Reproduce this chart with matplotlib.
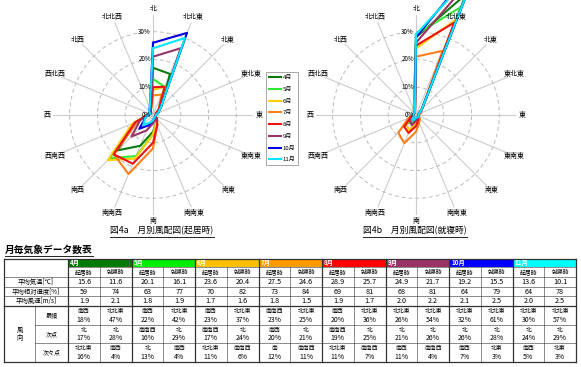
import matplotlib
matplotlib.use('Agg')
import matplotlib.pyplot as plt
import numpy as np
from matplotlib.patches import Rectangle

plt.rcParams['font.family'] = ['Noto Sans CJK JP', 'DejaVu Sans']

# 16 directions, clockwise from north
directions = ['北', '北北東', '北東', '東北東', '東', '東南東', '南東', '南南東',
              '南', '南南西', '南西', '西南西', '西', '西北西', '北西', '北北西']
months = ['4月', '5月', '6月', '7月', '8月', '9月', '10月', '11月']
line_colors = ['#0a7a0a', '#33e633', '#ffcc00', '#ff7f1a', '#ee1111', '#993366', '#0000e0', '#00e8ff']
header_colors = ['#007a00', '#00ee00', '#ffc000', '#ff9900', '#ff0000', '#993366', '#0000ff', '#00ffff']

# wind frequency [%] while awake (起居時), one list per month
wake_rose = [
    [17, 16, 4, 2, 1, 1, 2, 3, 6, 12, 18, 7, 2, 1, 1, 2],
    [13, 11, 3, 2, 1, 1, 2, 3, 7, 16, 22, 7, 2, 1, 1, 2],
    [9, 11, 3, 2, 1, 1, 2, 3, 7, 17, 23, 8, 2, 1, 1, 2],
    [7, 8, 3, 1, 1, 1, 2, 4, 12, 23, 20, 6, 2, 1, 1, 2],
    [10, 11, 3, 1, 1, 1, 2, 4, 10, 19, 20, 7, 2, 1, 1, 2],
    [21, 26, 4, 2, 1, 1, 2, 2, 3, 6, 11, 5, 2, 1, 1, 2],
    [26, 32, 4, 2, 1, 1, 1, 1, 2, 4, 7, 3, 2, 1, 2, 3],
    [24, 30, 4, 2, 1, 1, 1, 1, 2, 3, 5, 3, 2, 1, 2, 3],
]
# wind frequency [%] while asleep (就寝時)
sleep_rose = [
    [28, 47, 3, 1, 1, 1, 1, 1, 2, 3, 4, 2, 1, 1, 1, 2],
    [29, 42, 3, 1, 1, 1, 1, 1, 2, 3, 4, 2, 1, 1, 1, 2],
    [24, 37, 3, 1, 1, 1, 1, 2, 3, 6, 5, 2, 1, 1, 1, 1],
    [21, 25, 3, 2, 1, 1, 2, 3, 6, 11, 9, 3, 1, 1, 1, 1],
    [25, 36, 3, 1, 1, 1, 1, 2, 4, 7, 6, 2, 1, 1, 1, 1],
    [26, 54, 3, 1, 1, 1, 1, 1, 2, 4, 3, 1, 1, 1, 1, 1],
    [28, 61, 3, 1, 1, 1, 1, 1, 1, 2, 2, 1, 1, 1, 1, 1],
    [29, 57, 3, 1, 1, 1, 1, 1, 1, 2, 2, 1, 1, 1, 1, 1],
]

# table values
temp_wake = [15.6, 20.1, 23.6, 27.5, 28.9, 24.9, 19.2, 13.6]
temp_sleep = [11.6, 16.1, 20.4, 24.6, 25.7, 21.7, 15.5, 10.1]
hum_wake = [59, 63, 70, 73, 69, 68, 64, 64]
hum_sleep = [74, 77, 82, 84, 81, 81, 79, 78]
wind_wake = [1.9, 1.8, 1.7, 1.8, 1.9, 2.0, 2.1, 2.0]
wind_sleep = [2.1, 1.9, 1.6, 1.5, 1.7, 2.2, 2.5, 2.5]
top_wake = [
    [('南西', 18), ('北', 17), ('北北東', 16)],
    [('南西', 22), ('南南西', 16), ('北', 13)],
    [('南西', 23), ('南南西', 17), ('北北東', 11)],
    [('南南西', 23), ('南西', 20), ('南', 12)],
    [('南西', 20), ('南南西', 19), ('北北東', 11)],
    [('北北東', 26), ('北', 21), ('南西', 11)],
    [('北北東', 32), ('北', 26), ('南西', 7)],
    [('北北東', 30), ('北', 24), ('南西', 5)],
]
top_sleep = [
    [('北北東', 47), ('北', 28), ('南西', 4)],
    [('北北東', 42), ('北', 29), ('南西', 4)],
    [('北北東', 37), ('北', 24), ('南南西', 6)],
    [('北北東', 25), ('北', 21), ('南南西', 11)],
    [('北北東', 36), ('北', 25), ('南南西', 7)],
    [('北北東', 54), ('北', 26), ('南南西', 4)],
    [('北北東', 61), ('北', 28), ('北東', 3)],
    [('北北東', 57), ('北', 29), ('北東', 3)],
]

W, H = 581, 367
fig = plt.figure(figsize=(W / 100, H / 100), dpi=100)

# pixel-coordinate layer for table and captions
ax_t = fig.add_axes([0, 0, 1, 1])
ax_t.set_xlim(0, W)
ax_t.set_ylim(H, 0)
ax_t.axis('off')


def draw_rose(cx, cy, data, with_legend):
    rad = 100
    ax = fig.add_axes([(cx - rad) / W, (H - cy - rad) / H, 2 * rad / W, 2 * rad / H],
                      projection='polar')
    ax.set_facecolor('none')
    ax.set_theta_zero_location('N')
    ax.set_theta_direction(-1)
    theta = np.deg2rad(np.arange(16) * 22.5)
    for vals, c, m in zip(data, line_colors, months):
        t = np.append(theta, theta[0])
        v = np.append(vals, vals[0])
        ax.plot(t, v, color=c, lw=1.5, label=m, clip_on=False, zorder=3)
    ax.set_ylim(0, 36)
    ax.set_yticks([10, 20, 30])
    ax.set_yticklabels([])
    ax.set_xticks(theta)
    ax.set_xticklabels([])
    ax.xaxis.grid(True, color='#cccccc', lw=0.8, ls='-')
    ax.yaxis.grid(True, color='#bbbbbb', lw=0.7, ls=(0, (4, 3)))
    ax.spines['polar'].set_visible(False)
    for t, d in zip(theta, directions):
        ax.text(t, 38.3, d, ha='center', va='center', fontsize=5, clip_on=False)
    for r in [0, 10, 20, 30]:
        ax.annotate(f'{r}%', (0, r), xytext=(-1.5, 0), textcoords='offset points',
                    ha='right', va='center', fontsize=4.5)
    if with_legend:
        leg = ax.legend(loc='upper left', bbox_to_anchor=(266 / W, 1 - 72 / H),
                        bbox_transform=fig.transFigure, fontsize=4.3,
                        handlelength=2.0, handletextpad=0.3, labelspacing=1.1,
                        borderpad=0.5, borderaxespad=0, fancybox=False, framealpha=1)
        leg.get_frame().set_edgecolor('#999999')
        leg.get_frame().set_linewidth(0.6)
    return ax


draw_rose(153, 115, wake_rose, True)
draw_rose(416, 115, sleep_rose, False)

# captions
cap1 = ax_t.text(162, 231, '図4a\u3000月別風配図(起居時)', ha='center', va='center', fontsize=6.3)
cap2 = ax_t.text(415, 231, '図4b\u3000月別風配図(就寝時)', ha='center', va='center', fontsize=6.3)
cap3 = ax_t.text(5, 250, '月毎気象データ数表', ha='left', va='center', fontsize=7, fontweight='bold')

fig.canvas.draw()
inv = ax_t.transData.inverted()
for txt, uy in [(cap1, 237), (cap2, 237), (cap3, 256)]:
    bb = txt.get_window_extent()
    x0 = inv.transform((bb.x0, bb.y0))[0]
    x1 = inv.transform((bb.x1, bb.y0))[0]
    ax_t.plot([x0, x1], [uy, uy], color='#222222', lw=0.7)

# table grid
rows = [259, 267, 277, 287, 296, 306, 325, 343, 362]
x_left, x_split, x_lab = 4, 35, 68
x_right = 576
mw = (x_right - x_lab) / len(months)
mx = [x_lab + i * mw for i in range(len(months) + 1)]

for i, m in enumerate(months):
    ax_t.add_patch(Rectangle((mx[i], rows[0]), mw, rows[1] - rows[0],
                             facecolor=header_colors[i], edgecolor='none'))
    ax_t.text(mx[i] + 2, (rows[0] + rows[1]) / 2, m, ha='left', va='center',
              fontsize=4.5, color='white', fontweight='bold')

lc = '#333333'
thin, thick = 0.4, 0.9
ax_t.plot([x_left, x_right], [rows[0]] * 2, color=lc, lw=thick)
ax_t.plot([x_lab, x_right], [rows[1]] * 2, color=lc, lw=thin)
for y in rows[2:5]:
    ax_t.plot([x_left, x_right], [y, y], color=lc, lw=thin)
ax_t.plot([x_left, x_right], [rows[5]] * 2, color=lc, lw=thick)
for y in rows[6:8]:
    ax_t.plot([x_split, x_right], [y, y], color=lc, lw=thin)
ax_t.plot([x_left, x_right], [rows[8]] * 2, color=lc, lw=thick)

ax_t.plot([x_left, x_left], [rows[0], rows[8]], color=lc, lw=thick)
ax_t.plot([x_right, x_right], [rows[0], rows[8]], color=lc, lw=thick)
ax_t.plot([x_split, x_split], [rows[5], rows[8]], color=lc, lw=thin)
ax_t.plot([x_lab, x_lab], [rows[0], rows[8]], color=lc, lw=thick)
for i in range(1, len(months)):
    ax_t.plot([mx[i], mx[i]], [rows[0], rows[8]], color=lc, lw=thick)
for i in range(len(months)):
    xm = mx[i] + mw / 2
    ax_t.plot([xm, xm], [rows[1], rows[8]], color=lc, lw=thin)

# row labels
row_labels = ['平均気温[℃]', '平均相対湿度[%]', '平均風速[m/s]']
for k, lab in enumerate(row_labels):
    ax_t.text((x_left + x_lab) / 2, (rows[2 + k] + rows[3 + k]) / 2, lab,
              ha='center', va='center', fontsize=4.6)
ax_t.text((x_left + x_split) / 2, (rows[5] + rows[8]) / 2, '風\n向',
          ha='center', va='center', fontsize=4.6, linespacing=1.1)
for k, lab in enumerate(['最頻', '次点', '次々点']):
    ax_t.text((x_split + x_lab) / 2, (rows[5 + k] + rows[6 + k]) / 2, lab,
              ha='center', va='center', fontsize=4.3)

# values
for i in range(len(months)):
    cols = [(mx[i] + mw / 4, temp_wake[i], hum_wake[i], wind_wake[i], top_wake[i], '起居時'),
            (mx[i] + 3 * mw / 4, temp_sleep[i], hum_sleep[i], wind_sleep[i], top_sleep[i], '就寝時')]
    for xc, tv, hv, wv, tops, sub in cols:
        ax_t.text(xc, (rows[1] + rows[2]) / 2, sub, ha='center', va='center', fontsize=4.2)
        ax_t.text(xc, (rows[2] + rows[3]) / 2, f'{tv:.1f}', ha='center', va='center', fontsize=5.2)
        ax_t.text(xc, (rows[3] + rows[4]) / 2, f'{hv}', ha='center', va='center', fontsize=5.2)
        ax_t.text(xc, (rows[4] + rows[5]) / 2, f'{wv:.1f}', ha='center', va='center', fontsize=5.2)
        for k, (d, p) in enumerate(tops):
            y0, y1 = rows[5 + k], rows[6 + k]
            ax_t.text(xc, y0 + (y1 - y0) * 0.3, d, ha='center', va='center', fontsize=4.2)
            ax_t.text(xc, y0 + (y1 - y0) * 0.72, f'{p}%', ha='center', va='center', fontsize=5)

fig.savefig('out.png', dpi=100)
